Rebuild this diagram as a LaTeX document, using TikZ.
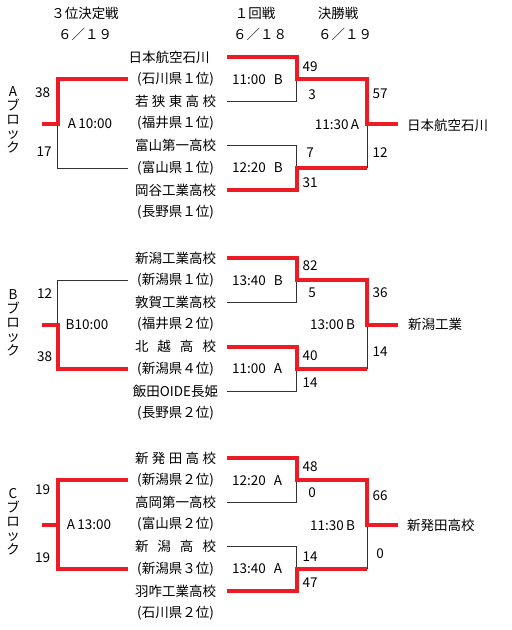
\documentclass[tikz,border=0pt]{standalone}
\usepackage{fontspec}
\setmainfont{Noto Sans CJK JP}
\definecolor{wred}{RGB}{237,28,36}
\definecolor{lgray}{RGB}{50,50,50}
\tikzset{
  win/.style={draw=wred, line width=4pt},
  lose/.style={draw=lgray, line width=0.8pt},
  lbl/.style={inner sep=0pt, font=\fontsize{13.5}{14}\selectfont, text=black},
}
\newcommand\spreadname[1]{\makebox[81pt][s]{#1}}
\newcommand\mkblock[2]{%
  \coordinate (#1t0) at (227,#2);
  \coordinate (#1t1) at (227,#2+44.4);
  \coordinate (#1t2) at (227,#2+88.8);
  \coordinate (#1t3) at (227,#2+133.2);
  \coordinate (#1m1) at (296.5,#2+22.2);
  \coordinate (#1m2) at (296.5,#2+111);
  \coordinate (#1f1) at (367,#2+22.2);
  \coordinate (#1f2) at (367,#2+111);
  \coordinate (#1f) at (367,#2+66.6);
  \coordinate (#1w) at (398,#2+66.6);
  \coordinate (#1l1) at (128,#2+22.2);
  \coordinate (#1l2) at (128,#2+111);
  \coordinate (#1lc) at (57.5,#2+66.6);
  \coordinate (#1ls) at (42,#2+66.6);
}
\begin{document}
\begin{tikzpicture}[x=1pt,y=-1pt]
\fill[white] (0,0) rectangle (512,630);
\useasboundingbox (0,0) rectangle (512,630);

% headers
\node[lbl] (h1) at (85,13) {３位決定戦};
\node[lbl] (h2) at (85,34) {６／１９};
\node[lbl] (h3) at (255,13) {１回戦};
\node[lbl] (h4) at (260,34) {６／１８};
\node[lbl] (h5) at (338,13) {決勝戦};
\node[lbl] (h6) at (345,34) {６／１９};

% ===== Block A (base 57) =====
\mkblock{A}{57}
\node[lbl] (An0) at (169,57) {日本航空石川};
\node[lbl] (An1) at (175.5,79.2) {(石川県１位)};
\node[lbl] (An2) at (175.5,101.4) {\spreadname{若\hfill 狭\hfill 東\hfill 高\hfill 校}};
\node[lbl] (An3) at (175.5,123.6) {(福井県１位)};
\node[lbl] (An4) at (175.5,145.8) {富山第一高校};
\node[lbl] (An5) at (175.5,168) {(富山県１位)};
\node[lbl] (An6) at (175.5,190.2) {岡谷工業高校};
\node[lbl] (An7) at (175.5,212.4) {(長野県１位)};
\node[lbl, align=center] (Ablk) at (13,120) {A\\ブ\\ロ\\ッ\\ク};
\node[lbl, anchor=west] (Ar1) at (232,79.2) {11:00\hspace{8pt}B};
\node[lbl, anchor=west] (Ar2) at (232,168) {12:20\hspace{8pt}B};
\node[lbl] (Afin) at (337,124.6) {11:30\,A};
\node[lbl] (A3rd) at (90,123.6) {A\,10:00};
\node[lbl] (As1) at (310,67) {49};
\node[lbl] (As2) at (312,95) {3};
\node[lbl] (As3) at (310,153) {7};
\node[lbl] (As4) at (310,183) {31};
\node[lbl] (As5) at (380,94) {57};
\node[lbl] (As6) at (380,153) {12};
\node[lbl] (As7) at (42.5,93) {38};
\node[lbl] (As8) at (44,152) {17};
\node[lbl, anchor=west] (Awin) at (407,125) {日本航空石川};
\draw[lose] (At1) -| (Am1);
\draw[lose] (At2) -| (Am2);
\draw[lose] (Af2) -- (Af);
\draw[lose] (Al2) -| (Alc);
\draw[win] (At0) -| (Am1) -- (Af1) |- (Aw);
\draw[win] (At3) -| (Am2) -- (Af2);
\draw[win] (Al1) -| (Alc) -- (Als);

% ===== Block B (base 258) =====
\mkblock{B}{258}
\node[lbl] (Bn0) at (175.5,258) {新潟工業高校};
\node[lbl] (Bn1) at (175.5,280.2) {(新潟県１位)};
\node[lbl] (Bn2) at (175.5,302.4) {敦賀工業高校};
\node[lbl] (Bn3) at (175.5,324.6) {(福井県２位)};
\node[lbl] (Bn4) at (175.5,346.8) {\spreadname{北\hfill 越\hfill 高\hfill 校}};
\node[lbl] (Bn5) at (175.5,369) {(新潟県４位)};
\node[lbl] (Bn6) at (175.5,391.2) {飯田OIDE長姫};
\node[lbl] (Bn7) at (175.5,413.4) {(長野県２位)};
\node[lbl, align=center] (Bblk) at (13,323) {B\\ブ\\ロ\\ッ\\ク};
\node[lbl, anchor=west] (Br1) at (232,280.2) {13:40\hspace{8pt}B};
\node[lbl, anchor=west] (Br2) at (232,369) {11:00\hspace{8pt}A};
\node[lbl] (Bfin) at (332.5,324.6) {13:00\,B};
\node[lbl] (B3rd) at (87,324.6) {B10:00};
\node[lbl] (Bs1) at (310,266) {82};
\node[lbl] (Bs2) at (312,293) {5};
\node[lbl] (Bs3) at (310,356) {40};
\node[lbl] (Bs4) at (310,383) {14};
\node[lbl] (Bs5) at (380,293) {36};
\node[lbl] (Bs6) at (380,352) {14};
\node[lbl] (Bs7) at (44.5,294) {12};
\node[lbl] (Bs8) at (44.5,357) {38};
\node[lbl, anchor=west] (Bwin) at (408,324.6) {新潟工業};
\draw[lose] (Bt1) -| (Bm1);
\draw[lose] (Bt3) -| (Bm2);
\draw[lose] (Bf2) -- (Bf);
\draw[lose] (Bl1) -| (Blc);
\draw[win] (Bt0) -| (Bm1) -- (Bf1) |- (Bw);
\draw[win] (Bt2) -| (Bm2) -- (Bf2);
\draw[win] (Bl2) -| (Blc) -- (Bls);

% ===== Block C (base 458) =====
\mkblock{C}{458}
\node[lbl] (Cn0) at (175.5,458) {\spreadname{新\hfill 発\hfill 田\hfill 高\hfill 校}};
\node[lbl] (Cn1) at (175.5,480.2) {(新潟県２位)};
\node[lbl] (Cn2) at (175.5,502.4) {高岡第一高校};
\node[lbl] (Cn3) at (175.5,524.6) {(富山県２位)};
\node[lbl] (Cn4) at (175.5,546.8) {\spreadname{新\hfill 潟\hfill 高\hfill 校}};
\node[lbl] (Cn5) at (175.5,569) {(新潟県３位)};
\node[lbl] (Cn6) at (175.5,591.2) {羽咋工業高校};
\node[lbl] (Cn7) at (175.5,613.4) {(石川県２位)};
\node[lbl, align=center] (Cblk) at (13,522) {C\\ブ\\ロ\\ッ\\ク};
\node[lbl, anchor=west] (Cr1) at (232,480.2) {12:20\hspace{8pt}A};
\node[lbl, anchor=west] (Cr2) at (232,569) {13:40\hspace{8pt}A};
\node[lbl] (Cfin) at (332.5,525.6) {11:30\,B};
\node[lbl] (C3rd) at (89,524.6) {A\,13:00};
\node[lbl] (Cs1) at (310,467) {48};
\node[lbl] (Cs2) at (312,493) {0};
\node[lbl] (Cs3) at (310,557) {14};
\node[lbl] (Cs4) at (310,583) {47};
\node[lbl] (Cs5) at (380,496) {66};
\node[lbl] (Cs6) at (380,554) {0};
\node[lbl] (Cs7) at (42.5,490) {19};
\node[lbl] (Cs8) at (42.5,558) {19};
\node[lbl, anchor=west] (Cwin) at (407,525) {新発田高校};
\draw[lose] (Ct1) -| (Cm1);
\draw[lose] (Ct2) -| (Cm2);
\draw[lose] (Cf2) -- (Cf);
\draw[win] (Ct0) -| (Cm1) -- (Cf1) |- (Cw);
\draw[win] (Ct3) -| (Cm2) -- (Cf2);
\draw[win] (Cl1) -| (Clc) -- (Cls);
\draw[win] (Cl2) -| (Clc);
\end{tikzpicture}
\end{document}
